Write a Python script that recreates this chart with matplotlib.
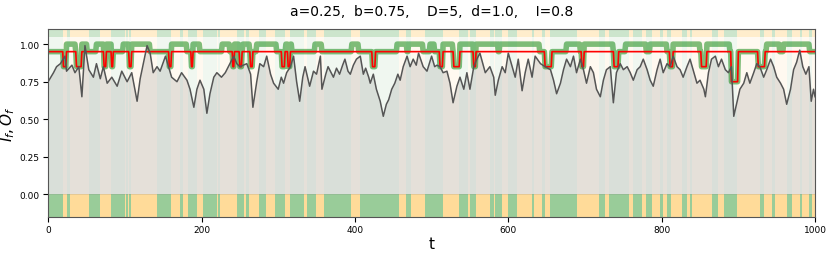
import numpy as np
import matplotlib
matplotlib.use("Agg")
import matplotlib.pyplot as plt

T_END = 1000

# spans of time where the state is "green" (otherwise "orange")
green_spans = [(0, 19), (24, 29), (53, 68), (82, 100), (102, 104), (106, 108),
               (142, 160), (172, 176), (183, 194), (202, 220), (222, 224),
               (246, 256), (258, 262), (275, 284), (296, 309), (316, 333),
               (337, 349), (360, 395), (407, 457), (466, 473), (492, 515),
               (536, 547), (550, 558), (576, 581), (583, 592), (599, 611),
               (631, 634), (644, 648), (655, 689), (718, 726), (731, 757),
               (763, 774), (779, 787), (798, 802), (807, 812), (826, 833),
               (837, 839), (865, 873), (881, 898), (928, 933), (944, 948),
               (963, 970), (981, 983), (992, 996)]

# O_f: base level 0.95, high level 1.0, low level 0.85, deep level 0.75
of_base = 0.95
of_high_spans = [(24, 36), (44, 51), (63, 73), (76, 83), (98, 106), (109, 133),
                 (161, 181), (189, 198), (227, 237), (243, 249), (254, 263),
                 (272, 298), (310, 318), (348, 357), (396, 405), (455, 468),
                 (470, 489), (498, 504), (515, 528), (537, 555), (558, 587),
                 (589, 641), (676, 694), (699, 737), (753, 780), (785, 807),
                 (815, 850), (859, 889), (937, 954), (959, 993)]
of_low_spans = [(20, 24), (37, 44), (73, 76), (83, 85), (106, 109), (158, 161),
                (187, 189), (241, 243), (250, 253), (264, 267), (305, 309),
                (313, 316), (423, 427), (511, 515), (529, 537), (555, 558),
                (648, 657), (696, 699), (738, 744), (811, 815), (852, 859),
                (926, 935)]
of_deep_spans = [(891, 900)]

# I_f samples (time, value)
if_t = [0, 7, 11, 16, 22, 24, 31, 35, 40, 44, 48, 53, 59, 63, 68, 72, 77,
        83, 90, 96, 103, 109, 116, 120, 129, 133, 137, 142, 146, 153, 157,
        161, 168, 174, 181, 185, 190, 194, 198, 203, 207, 211, 216, 220,
        226, 231, 237, 242, 246,
        250, 259, 264, 267, 272, 276, 281, 285, 290, 294, 300, 304, 307, 311,
        316, 320, 324, 328, 332, 335, 341, 346, 350, 355, 357, 362, 365, 368,
        372, 376, 380, 384, 387, 391, 394, 398, 402, 407, 411, 414, 418, 420,
        424, 428, 433, 437, 441, 444, 448, 452, 456, 459, 463, 468, 472, 476,
        480, 483, 487, 489, 494, 500, 504, 507,
        511, 515, 520, 524, 528, 533, 537, 542, 546, 550, 555, 559, 563, 570,
        576, 581, 583, 587, 592, 596, 600, 605, 609, 613, 618, 622, 626, 631,
        635, 642, 648, 655, 659, 663, 668, 672, 676, 681, 685, 689, 694, 698,
        702, 707, 711, 715, 720, 724, 728, 733, 737, 741, 746, 750, 755, 759,
        763, 768, 772,
        776, 781, 785, 789, 794, 798, 802, 807, 811, 815, 820, 824, 828, 833,
        837, 842, 846, 850, 855, 857, 861, 865, 870, 874, 878, 883, 887, 891,
        894, 898, 902, 907, 911, 915, 920, 924, 928, 933, 937, 942, 946, 950,
        955, 959, 963, 968, 972, 976, 980, 984, 988, 992, 995, 998, 1000]
if_vals = [0.75, 0.81, 0.85, 0.87, 0.92, 0.82, 0.86, 0.81, 0.85, 0.65, 0.99,
           0.83, 0.78, 0.87, 0.77, 0.85, 0.74, 0.78, 0.72, 0.82, 0.75, 0.81,
           0.62, 0.77, 0.99, 0.94, 0.81, 0.85, 0.82, 0.92, 0.85, 0.78, 0.75,
           0.81, 0.76, 0.70, 0.58, 0.70, 0.76, 0.70, 0.54, 0.67, 0.78, 0.81,
           0.78, 0.81, 0.87, 0.92, 0.87,
           0.85, 0.87, 0.80, 0.58, 0.75, 0.87, 0.85, 0.92, 0.80, 0.74, 0.70,
           0.78, 0.74, 0.81, 0.85, 0.92, 0.75, 0.62, 0.78, 0.85, 0.72, 0.82,
           0.80, 0.92, 0.70, 0.80, 0.85, 0.82, 0.78, 0.84, 0.80, 0.86, 0.90,
           0.82, 0.80, 0.86, 0.90, 0.92, 0.80, 0.84, 0.78, 0.74, 0.80, 0.70,
           0.62, 0.52, 0.60, 0.63, 0.70, 0.74, 0.80, 0.76, 0.85, 0.92, 0.85,
           0.90, 0.86, 0.94, 0.88, 0.85, 0.82, 0.92, 0.85, 0.86,
           0.85, 0.81, 0.82, 0.74, 0.61, 0.72, 0.78, 0.70, 0.81, 0.70, 0.85,
           0.90, 0.94, 0.81, 0.85, 0.78, 0.66, 0.76, 0.85, 0.81, 0.94, 0.85,
           0.78, 0.90, 0.69, 0.81, 0.90, 0.78, 0.92, 0.87, 0.85, 0.83, 0.76,
           0.67, 0.74, 0.83, 0.90, 0.85, 0.92, 0.81, 0.90, 0.83, 0.74, 0.85,
           0.81, 0.70, 0.65, 0.76, 0.83, 0.85, 0.61, 0.81, 0.87, 0.83, 0.85,
           0.81, 0.76, 0.83, 0.85,
           0.90, 0.83, 0.76, 0.72, 0.83, 0.90, 0.81, 0.87, 0.85, 0.92, 0.85,
           0.83, 0.78, 0.85, 0.90, 0.81, 0.74, 0.76, 0.70, 0.65, 0.81, 0.90,
           0.92, 0.85, 0.90, 0.83, 0.81, 0.85, 0.52, 0.61, 0.70, 0.74, 0.81,
           0.74, 0.81, 0.87, 0.85, 0.78, 0.83, 0.90, 0.85, 0.78, 0.74, 0.70,
           0.60, 0.70, 0.83, 0.88, 0.96, 0.85, 0.80, 0.85, 0.62, 0.70, 0.65]

title = "a=0.25,  b=0.75,    D=5,  d=1.0,    I=0.8"

# ---- build step series ----
t = np.arange(0, T_END + 1)
of = np.full(t.shape, of_base)
for s, e in of_high_spans:
    of[s:e] = 1.0
for s, e in of_low_spans:
    of[s:e] = 0.85
for s, e in of_deep_spans:
    of[s:e] = 0.75
red = np.minimum(of, of_base)

# state segments
seg_start, seg_len, seg_col = [], [], []
cur = 0
for s, e in green_spans:
    if s > cur:
        seg_start.append(cur); seg_len.append(s - cur); seg_col.append("orange")
    seg_start.append(s); seg_len.append(e - s); seg_col.append("green")
    cur = e
if cur < T_END:
    seg_start.append(cur); seg_len.append(T_END - cur); seg_col.append("orange")

fig = plt.figure(figsize=(8.3, 2.55), dpi=100)
ax = fig.add_axes([0.058, 0.145, 0.924, 0.737])

ymin, ymax = -0.15, 1.1
ax.bar(seg_start, 1.05, width=seg_len, bottom=0.0, align="edge",
       color=seg_col, alpha=0.06, linewidth=0)
ax.bar(seg_start, 0.05, width=seg_len, bottom=1.05, align="edge",
       color=seg_col, alpha=0.2, linewidth=0)
ax.bar(seg_start, 0.15, width=seg_len, bottom=-0.15, align="edge",
       color=seg_col, alpha=0.4, linewidth=0)

ax.fill_between(if_t, 0, if_vals, color="gray", alpha=0.2, linewidth=0)
ax.plot(t, of, color="green", alpha=0.5, lw=4, solid_joinstyle="round")
ax.plot(t, red, color="red", lw=1.2)
ax.plot(if_t, if_vals, color="#555555", lw=1.1)

ax.set_xlim(0, T_END)
ax.set_ylim(ymin, ymax)
ax.set_xticks([0, 200, 400, 600, 800, 1000])
ax.set_yticks([0, 0.25, 0.5, 0.75, 1.0])
ax.set_yticklabels(["0.00", "0.25", "0.50", "0.75", "1.00"])
ax.tick_params(labelsize=6.5, length=3.5, pad=2.5)
for sp in ax.spines.values():
    sp.set_color("#555555")
ax.set_xlabel("t", fontsize=11, labelpad=1)
ax.set_ylabel("$I_f, O_f$", fontsize=11)
ax.yaxis.set_label_coords(-0.04, 0.5)
ax.set_title(title, fontsize=10, pad=10)

fig.savefig("out.png", dpi=100)
